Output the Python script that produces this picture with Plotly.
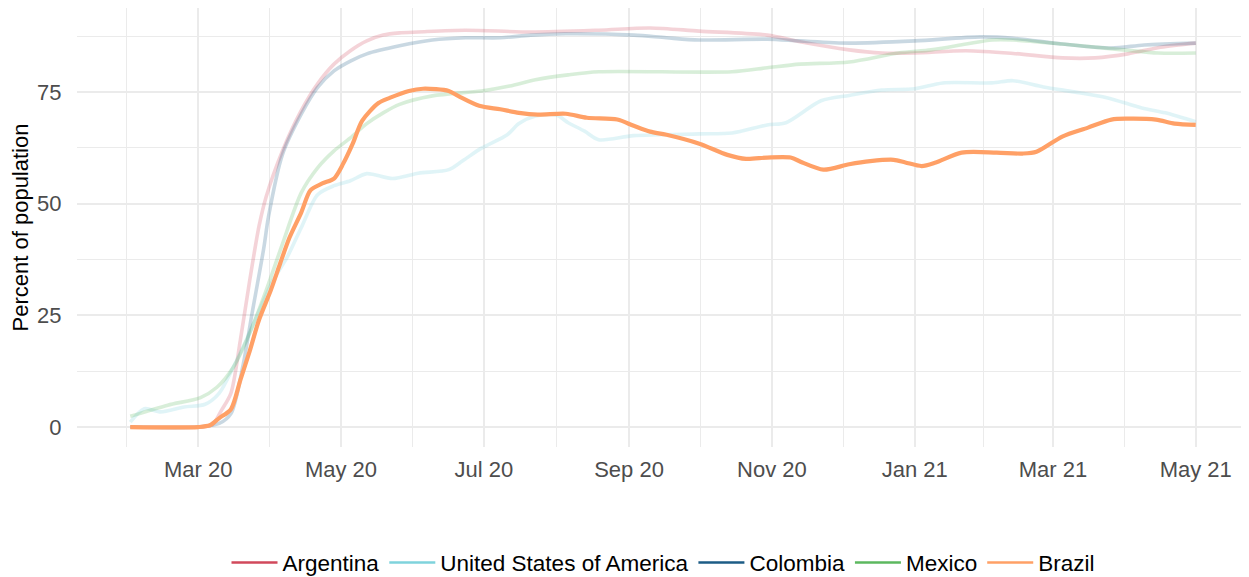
import plotly.graph_objects as go
import pandas as pd

# ---------------- data ----------------
countries = ["Argentina", "United States of America", "Colombia", "Mexico", "Brazil"]

argentina_dates = ["2020-02-01", "2020-03-01", "2020-03-07", "2020-03-11", "2020-03-15", "2020-03-19",
                   "2020-03-23", "2020-03-27", "2020-03-30", "2020-04-06", "2020-04-14", "2020-04-21",
                   "2020-04-28", "2020-05-05", "2020-05-12", "2020-05-19", "2020-05-26", "2020-06-03",
                   "2020-06-23", "2020-07-21", "2020-08-19", "2020-09-10", "2020-10-01", "2020-10-30",
                   "2020-11-13", "2020-12-04", "2020-12-18", "2021-01-01", "2021-01-23", "2021-02-12",
                   "2021-03-05", "2021-03-19", "2021-04-02", "2021-04-16", "2021-05-01"]
argentina_values = [0, 0, 0.5, 3.8, 7.6, 19.4, 32.8, 45, 51.5, 61.8, 70.8, 76.8, 81.2, 84.2, 86.4, 87.7,
                    88.2, 88.4, 88.8, 88.4, 88.8, 89.3, 88.6, 87.7, 86.2, 84.4, 83.7, 83.7, 84.2, 83.6,
                    82.6, 82.6, 83.5, 85, 85.9]

usa_dates = ["2020-02-01", "2020-02-07", "2020-02-14", "2020-02-24", "2020-03-04", "2020-03-10",
             "2020-03-16", "2020-03-22", "2020-03-27", "2020-04-02", "2020-04-08", "2020-04-14",
             "2020-04-21", "2020-04-28", "2020-05-05", "2020-05-12", "2020-05-23", "2020-06-03",
             "2020-06-16", "2020-06-22", "2020-06-30", "2020-07-11", "2020-07-16", "2020-07-23",
             "2020-08-01", "2020-08-06", "2020-08-13", "2020-08-19", "2020-09-03", "2020-10-01",
             "2020-10-15", "2020-10-30", "2020-11-07", "2020-11-22", "2020-12-04", "2020-12-18",
             "2021-01-01", "2021-01-13", "2021-02-03", "2021-02-12", "2021-02-25", "2021-03-10",
             "2021-03-24", "2021-04-08", "2021-04-18", "2021-05-01"]
usa_values = [1.1, 4.1, 3.4, 4.5, 5.1, 7.6, 13.4, 20, 26, 32.8, 38, 44.6, 52, 54, 55.1, 56.7, 55.6,
              56.8, 57.6, 59.6, 62.4, 65.4, 67.9, 69.6, 69.8, 68.1, 66.2, 64.3, 65.2, 65.6, 65.8,
              67.6, 68.1, 73, 74.2, 75.4, 75.7, 77, 77, 77.5, 76.1, 75, 73.7, 71.4, 70.3, 68.3]

colombia_dates = ["2020-02-01", "2020-03-01", "2020-03-10", "2020-03-15", "2020-03-20", "2020-03-24",
                  "2020-03-29", "2020-03-31", "2020-04-06", "2020-04-14", "2020-04-21", "2020-04-28",
                  "2020-05-05", "2020-05-12", "2020-05-26", "2020-06-09", "2020-06-23", "2020-07-08",
                  "2020-07-21", "2020-08-05", "2020-09-03", "2020-09-17", "2020-10-01", "2020-10-30",
                  "2020-11-13", "2020-12-04", "2021-01-01", "2021-01-29", "2021-02-12", "2021-03-05",
                  "2021-03-26", "2021-04-09", "2021-05-01"]
colombia_values = [0, 0, 0.8, 3, 13.4, 25.4, 40, 47, 61, 70, 76, 79.7, 81.9, 83.5, 85.3, 86.6, 87.1,
                   87.1, 87.7, 88, 87.7, 87.1, 86.6, 86.8, 86.4, 85.9, 86.4, 87.3, 87, 85.7, 84.8,
                   85.5, 85.9]

mexico_dates = ["2020-02-01", "2020-02-17", "2020-03-02", "2020-03-09", "2020-03-16", "2020-03-23",
                "2020-03-30", "2020-04-06", "2020-04-14", "2020-04-21", "2020-04-28", "2020-05-05",
                "2020-05-12", "2020-05-19", "2020-05-26", "2020-06-09", "2020-06-30", "2020-07-12",
                "2020-07-23", "2020-08-06", "2020-08-19", "2020-10-15", "2020-10-30", "2020-11-13",
                "2020-12-04", "2020-12-25", "2021-01-08", "2021-01-23", "2021-02-03", "2021-02-12",
                "2021-03-05", "2021-03-31", "2021-04-15", "2021-05-01"]
mexico_values = [2.4, 4.9, 6.6, 8.9, 13.4, 21, 30.5, 41, 52.4, 58, 61.8, 64.7, 67.9, 70.3, 72.2,
                 74.1, 75.2, 76.3, 77.7, 78.8, 79.5, 79.5, 80.4, 81.2, 81.7, 83.7, 84.4, 85.7, 86.6,
                 86.6, 85.7, 84.4, 83.7, 83.7]

brazil_dates = ["2020-02-01", "2020-03-01", "2020-03-06", "2020-03-10", "2020-03-15", "2020-03-19",
                "2020-03-23", "2020-03-27", "2020-04-01", "2020-04-05", "2020-04-09", "2020-04-14",
                "2020-04-18", "2020-04-23", "2020-04-28", "2020-05-02", "2020-05-06", "2020-05-10",
                "2020-05-17", "2020-05-22", "2020-05-30", "2020-06-05", "2020-06-16", "2020-06-20",
                "2020-06-29", "2020-07-08", "2020-07-16", "2020-07-24", "2020-08-05", "2020-08-14",
                "2020-08-27", "2020-09-03", "2020-09-10", "2020-09-17", "2020-10-01", "2020-10-13",
                "2020-10-21", "2020-10-30", "2020-11-09", "2020-11-14", "2020-11-23", "2020-12-04",
                "2020-12-13", "2020-12-23", "2020-12-28", "2021-01-04", "2021-01-10", "2021-01-21",
                "2021-02-05", "2021-02-16", "2021-02-22", "2021-03-05", "2021-03-16", "2021-03-26",
                "2021-04-02", "2021-04-14", "2021-04-22", "2021-05-01"]
brazil_values = [0, 0, 0.4, 2.0, 4, 10.5, 17, 24, 30.6, 36.6, 42.4, 48, 53, 54.5, 55.6, 59, 63.4,
                 68.5, 72.5, 73.7, 75.2, 75.7, 75.2, 74.1, 71.9, 71.1, 70.3, 69.9, 70.1, 69.2, 68.8,
                 67.4, 66.1, 65.4, 63.4, 60.9, 60, 60.3, 60.3, 59.2, 57.6, 58.8, 59.5, 59.8, 59.2,
                 58.4, 59.2, 61.4, 61.4, 61.2, 61.6, 65, 67, 68.8, 69, 68.8, 67.9, 67.6]

colors = {"Argentina": "#D1495B", "United States of America": "#7FD3DC",
          "Colombia": "#1D5C86", "Mexico": "#5CB85F", "Brazil": "#FFA066"}

x_tick_dates = ["2020-03-01", "2020-05-01", "2020-07-01", "2020-09-01", "2020-11-01",
                "2021-01-01", "2021-03-01", "2021-05-01"]
x_tick_labels = ["Mar 20", "May 20", "Jul 20", "Sep 20", "Nov 20", "Jan 21", "Mar 21", "May 21"]
y_ticks = [0, 25, 50, 75]
y_minor = [12.5, 37.5, 62.5, 87.5]

series = {
    "Argentina": (argentina_dates, argentina_values),
    "United States of America": (usa_dates, usa_values),
    "Colombia": (colombia_dates, colombia_values),
    "Mexico": (mexico_dates, mexico_values),
    "Brazil": (brazil_dates, brazil_values),
}
highlight = "Brazil"

# ---------------- figure ----------------
FONT = "Liberation Sans, Arial, Helvetica, sans-serif"
fig = go.Figure()


def rgba(hex_color, a):
    h = hex_color.lstrip("#")
    r, g, b = int(h[0:2], 16), int(h[2:4], 16), int(h[4:6], 16)
    return f"rgba({r},{g},{b},{a})"


# faded background countries
for name in countries:
    if name == highlight:
        continue
    d, v = series[name]
    fig.add_trace(go.Scatter(x=pd.to_datetime(d), y=v, mode="lines", name=name,
                             line=dict(color=rgba(colors[name], 0.24), width=3.6,
                                       shape="spline", smoothing=0.8),
                             showlegend=False, hoverinfo="skip"))
# highlighted country
d, v = series[highlight]
fig.add_trace(go.Scatter(x=pd.to_datetime(d), y=v, mode="lines", name=highlight,
                         line=dict(color=colors[highlight], width=4.2, shape="spline", smoothing=0.8),
                         showlegend=False))

# legend entries (full colour keys, as in the reference)
for name in countries:
    fig.add_trace(go.Scatter(x=[None], y=[None], mode="lines", name=name,
                             line=dict(color=colors[name], width=2.5), showlegend=True))

# scales with 5% expansion like ggplot
all_dates = pd.to_datetime(sum([series[c][0] for c in countries], []))
all_vals = sum([series[c][1] for c in countries], [])
xmin, xmax = all_dates.min(), all_dates.max()
xpad = (xmax - xmin) * 0.05
ymin, ymax = min(all_vals), max(all_vals)
ypad = (ymax - ymin) * 0.05

major = pd.to_datetime(x_tick_dates)
minor_x = [major[0] - (major[1] - major[0]) / 2] + [major[i] + (major[i + 1] - major[i]) / 2
                                                    for i in range(len(major) - 1)]

GRID = "#EBEBEB"
fig.update_xaxes(range=[xmin - xpad, xmax + xpad], tickmode="array", tickvals=major,
                 ticktext=x_tick_labels, showgrid=True, gridcolor=GRID, gridwidth=1.6,
                 zeroline=False, showline=False, ticks="outside", ticklen=3,
                 tickcolor="rgba(0,0,0,0)", automargin=False,
                 tickfont=dict(family=FONT, size=22, color="#4D4D4D"),
                 minor=dict(tickmode="array", tickvals=minor_x, showgrid=True,
                            gridcolor=GRID, gridwidth=0.8, ticks=""))
fig.update_yaxes(range=[ymin - ypad, ymax + ypad], tickmode="array", tickvals=y_ticks,
                 showgrid=True, gridcolor=GRID, gridwidth=1.6, zeroline=False, showline=False,
                 ticks="outside", ticklen=10, tickcolor="rgba(0,0,0,0)", automargin=False,
                 tickfont=dict(family=FONT, size=22, color="#4D4D4D"),
                 title=dict(text="Percent of population", font=dict(family=FONT, size=22, color="black"),
                            standoff=3),
                 minor=dict(tickmode="array", tickvals=y_minor, showgrid=True,
                            gridcolor=GRID, gridwidth=0.8, ticks=""))

# the page body has an 8px margin, so the figure is sized to fit inside the window
fig.update_layout(
    width=1241, height=569,
    margin=dict(l=69, r=0, t=0, b=130, autoexpand=False),
    paper_bgcolor="white", plot_bgcolor="white",
    font=dict(family=FONT, size=22, color="black"),
    showlegend=True,
    legend=dict(orientation="h", x=0.5, xanchor="center", y=-0.264, yanchor="middle",
                font=dict(family=FONT, size=22.5, color="black"), itemwidth=46,
                traceorder="normal", bgcolor="rgba(0,0,0,0)"),
)

fig.write_html("out.html")
